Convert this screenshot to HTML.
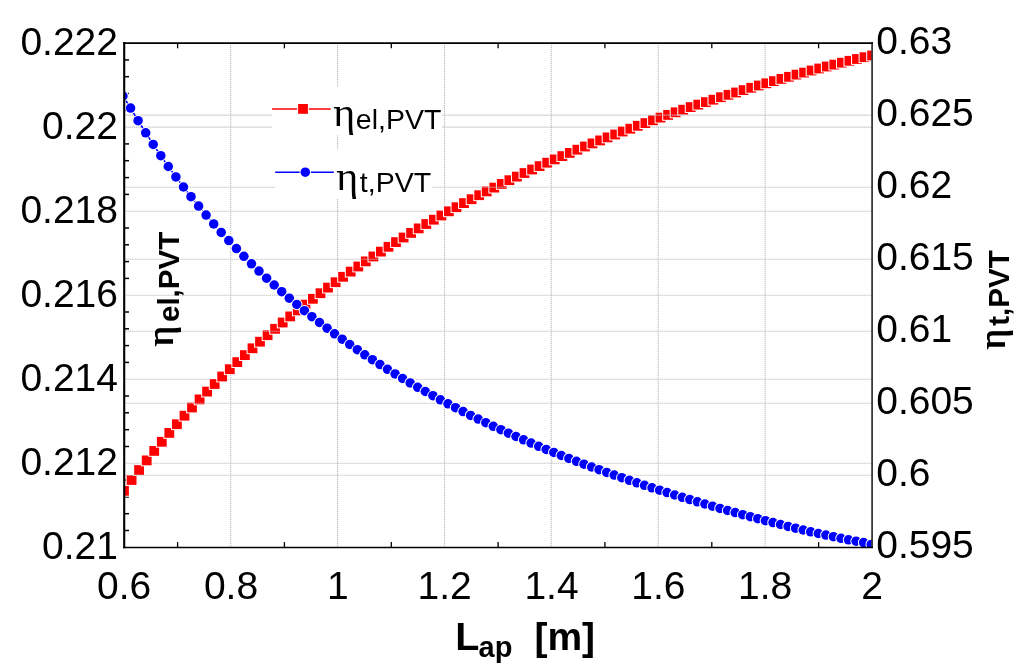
<!DOCTYPE html>
<html lang="en"><head><meta charset="utf-8"><title>PVT efficiency vs aperture length</title>
<style>html,body{margin:0;padding:0;background:#fff}body{width:1024px;height:671px;overflow:hidden}svg{display:block;filter:blur(0.45px)}.n{font-family:"Liberation Sans",sans-serif;font-size:39px;fill:#000}.s{font-family:"Liberation Sans",sans-serif;font-size:28.5px;fill:#000}.e{font-family:"Liberation Serif",serif;font-size:39px;fill:#000}.b{font-family:"Liberation Sans",sans-serif;font-weight:bold;fill:#000}.eb{font-family:"Liberation Serif",serif;font-size:38.5px;fill:#000}.g{stroke:#bcbcbc;stroke-width:1.1;stroke-dasharray:1.2 0.8;fill:none}</style></head><body>
<svg width="1024" height="671" viewBox="0 0 1024 671">
<rect width="1024" height="671" fill="#fff"/>
<defs><clipPath id="cp"><rect x="124.2" y="43.1" width="748.7" height="504.2"/></clipPath></defs>
<g class="g">
<line x1="230.7" y1="43.1" x2="230.7" y2="547.3"/>
<line x1="337.6" y1="43.1" x2="337.6" y2="547.3"/>
<line x1="444.5" y1="43.1" x2="444.5" y2="547.3"/>
<line x1="551.3" y1="43.1" x2="551.3" y2="547.3"/>
<line x1="658.2" y1="43.1" x2="658.2" y2="547.3"/>
<line x1="765.1" y1="43.1" x2="765.1" y2="547.3"/>
<line x1="124.2" y1="127.1" x2="872.0" y2="127.1"/>
<line x1="124.2" y1="211.2" x2="872.0" y2="211.2"/>
<line x1="124.2" y1="295.2" x2="872.0" y2="295.2"/>
<line x1="124.2" y1="379.2" x2="872.0" y2="379.2"/>
<line x1="124.2" y1="463.3" x2="872.0" y2="463.3"/>
</g>
<g stroke="#000" fill="none">
<line x1="124.2" y1="59.9" x2="129.0" y2="59.9" stroke-width="1.5"/>
<line x1="124.2" y1="76.7" x2="129.0" y2="76.7" stroke-width="1.5"/>
<line x1="124.2" y1="93.5" x2="129.0" y2="93.5" stroke-width="1.5"/>
<line x1="124.2" y1="110.3" x2="129.0" y2="110.3" stroke-width="1.5"/>
<line x1="124.2" y1="143.9" x2="129.0" y2="143.9" stroke-width="1.5"/>
<line x1="124.2" y1="160.7" x2="129.0" y2="160.7" stroke-width="1.5"/>
<line x1="124.2" y1="177.6" x2="129.0" y2="177.6" stroke-width="1.5"/>
<line x1="124.2" y1="194.4" x2="129.0" y2="194.4" stroke-width="1.5"/>
<line x1="124.2" y1="228.0" x2="129.0" y2="228.0" stroke-width="1.5"/>
<line x1="124.2" y1="244.8" x2="129.0" y2="244.8" stroke-width="1.5"/>
<line x1="124.2" y1="261.6" x2="129.0" y2="261.6" stroke-width="1.5"/>
<line x1="124.2" y1="278.4" x2="129.0" y2="278.4" stroke-width="1.5"/>
<line x1="124.2" y1="312.0" x2="129.0" y2="312.0" stroke-width="1.5"/>
<line x1="124.2" y1="328.8" x2="129.0" y2="328.8" stroke-width="1.5"/>
<line x1="124.2" y1="345.6" x2="129.0" y2="345.6" stroke-width="1.5"/>
<line x1="124.2" y1="362.4" x2="129.0" y2="362.4" stroke-width="1.5"/>
<line x1="124.2" y1="396.0" x2="129.0" y2="396.0" stroke-width="1.5"/>
<line x1="124.2" y1="412.8" x2="129.0" y2="412.8" stroke-width="1.5"/>
<line x1="124.2" y1="429.7" x2="129.0" y2="429.7" stroke-width="1.5"/>
<line x1="124.2" y1="446.5" x2="129.0" y2="446.5" stroke-width="1.5"/>
<line x1="124.2" y1="480.1" x2="129.0" y2="480.1" stroke-width="1.5"/>
<line x1="124.2" y1="496.9" x2="129.0" y2="496.9" stroke-width="1.5"/>
<line x1="124.2" y1="513.7" x2="129.0" y2="513.7" stroke-width="1.5"/>
<line x1="124.2" y1="530.5" x2="129.0" y2="530.5" stroke-width="1.5"/>
<line x1="177.6" y1="43.1" x2="177.6" y2="48.3" stroke-width="1.3"/>
<line x1="177.6" y1="547.3" x2="177.6" y2="542.1" stroke-width="1.3"/>
<line x1="284.4" y1="43.1" x2="284.4" y2="48.3" stroke-width="1.3"/>
<line x1="284.4" y1="547.3" x2="284.4" y2="542.1" stroke-width="1.3"/>
<line x1="391.3" y1="43.1" x2="391.3" y2="48.3" stroke-width="1.3"/>
<line x1="391.3" y1="547.3" x2="391.3" y2="542.1" stroke-width="1.3"/>
<line x1="498.1" y1="43.1" x2="498.1" y2="48.3" stroke-width="1.3"/>
<line x1="498.1" y1="547.3" x2="498.1" y2="542.1" stroke-width="1.3"/>
<line x1="604.9" y1="43.1" x2="604.9" y2="48.3" stroke-width="1.3"/>
<line x1="604.9" y1="547.3" x2="604.9" y2="542.1" stroke-width="1.3"/>
<line x1="711.8" y1="43.1" x2="711.8" y2="48.3" stroke-width="1.3"/>
<line x1="711.8" y1="547.3" x2="711.8" y2="542.1" stroke-width="1.3"/>
<line x1="818.6" y1="43.1" x2="818.6" y2="48.3" stroke-width="1.3"/>
<line x1="818.6" y1="547.3" x2="818.6" y2="542.1" stroke-width="1.3"/>
</g>
<g clip-path="url(#cp)">
<polyline fill="none" stroke="#f00" stroke-width="1.6" points="124.0,490.8 131.6,480.0 139.1,470.0 146.7,460.4 154.2,450.9 161.8,441.8 169.3,432.9 176.9,424.2 184.5,415.7 192.0,407.5 199.6,399.4 207.1,391.6 214.7,384.0 222.2,376.5 229.8,369.2 237.3,362.1 244.9,355.1 252.5,348.3 260.0,341.7 267.6,335.2 275.1,328.8 282.7,322.5 290.2,316.4 297.8,310.4 305.4,304.6 312.9,298.8 320.5,293.2 328.0,287.6 335.6,282.2 343.1,276.8 350.7,271.6 358.3,266.5 365.8,261.4 373.4,256.5 380.9,251.6 388.5,246.8 396.0,242.1 403.6,237.5 411.1,232.9 418.7,228.4 426.3,224.0 433.8,219.7 441.4,215.5 448.9,211.3 456.5,207.2 464.0,203.1 471.6,199.2 479.2,195.2 486.7,191.4 494.3,187.6 501.8,183.9 509.4,180.2 516.9,176.6 524.5,173.0 532.1,169.5 539.6,166.1 547.2,162.7 554.7,159.4 562.3,156.1 569.8,152.9 577.4,149.7 585.0,146.5 592.5,143.4 600.1,140.4 607.6,137.4 615.2,134.5 622.7,131.5 630.3,128.7 637.8,125.8 645.4,123.1 653.0,120.3 660.5,117.6 668.1,114.9 675.6,112.3 683.2,109.7 690.7,107.1 698.3,104.6 705.9,102.1 713.4,99.7 721.0,97.2 728.5,94.8 736.1,92.5 743.6,90.1 751.2,87.8 758.8,85.5 766.3,83.3 773.9,81.1 781.4,78.9 789.0,76.8 796.5,74.6 804.1,72.6 811.6,70.5 819.2,68.5 826.8,66.5 834.3,64.6 841.9,62.7 849.4,60.8 857.0,59.0 864.5,57.2 872.1,55.5"/>
<rect x="119.1" y="485.9" width="9.8" height="9.8" fill="#f00" stroke="#fff" stroke-width="2" paint-order="stroke"/>
<rect x="126.7" y="475.1" width="9.8" height="9.8" fill="#f00" stroke="#fff" stroke-width="2" paint-order="stroke"/>
<rect x="134.2" y="465.1" width="9.8" height="9.8" fill="#f00" stroke="#fff" stroke-width="2" paint-order="stroke"/>
<rect x="141.8" y="455.5" width="9.8" height="9.8" fill="#f00" stroke="#fff" stroke-width="2" paint-order="stroke"/>
<rect x="149.3" y="446.0" width="9.8" height="9.8" fill="#f00" stroke="#fff" stroke-width="2" paint-order="stroke"/>
<rect x="156.9" y="436.9" width="9.8" height="9.8" fill="#f00" stroke="#fff" stroke-width="2" paint-order="stroke"/>
<rect x="164.4" y="428.0" width="9.8" height="9.8" fill="#f00" stroke="#fff" stroke-width="2" paint-order="stroke"/>
<rect x="172.0" y="419.3" width="9.8" height="9.8" fill="#f00" stroke="#fff" stroke-width="2" paint-order="stroke"/>
<rect x="179.6" y="410.8" width="9.8" height="9.8" fill="#f00" stroke="#fff" stroke-width="2" paint-order="stroke"/>
<rect x="187.1" y="402.6" width="9.8" height="9.8" fill="#f00" stroke="#fff" stroke-width="2" paint-order="stroke"/>
<rect x="194.7" y="394.5" width="9.8" height="9.8" fill="#f00" stroke="#fff" stroke-width="2" paint-order="stroke"/>
<rect x="202.2" y="386.7" width="9.8" height="9.8" fill="#f00" stroke="#fff" stroke-width="2" paint-order="stroke"/>
<rect x="209.8" y="379.1" width="9.8" height="9.8" fill="#f00" stroke="#fff" stroke-width="2" paint-order="stroke"/>
<rect x="217.3" y="371.6" width="9.8" height="9.8" fill="#f00" stroke="#fff" stroke-width="2" paint-order="stroke"/>
<rect x="224.9" y="364.3" width="9.8" height="9.8" fill="#f00" stroke="#fff" stroke-width="2" paint-order="stroke"/>
<rect x="232.4" y="357.2" width="9.8" height="9.8" fill="#f00" stroke="#fff" stroke-width="2" paint-order="stroke"/>
<rect x="240.0" y="350.2" width="9.8" height="9.8" fill="#f00" stroke="#fff" stroke-width="2" paint-order="stroke"/>
<rect x="247.6" y="343.4" width="9.8" height="9.8" fill="#f00" stroke="#fff" stroke-width="2" paint-order="stroke"/>
<rect x="255.1" y="336.8" width="9.8" height="9.8" fill="#f00" stroke="#fff" stroke-width="2" paint-order="stroke"/>
<rect x="262.7" y="330.3" width="9.8" height="9.8" fill="#f00" stroke="#fff" stroke-width="2" paint-order="stroke"/>
<rect x="270.2" y="323.9" width="9.8" height="9.8" fill="#f00" stroke="#fff" stroke-width="2" paint-order="stroke"/>
<rect x="277.8" y="317.6" width="9.8" height="9.8" fill="#f00" stroke="#fff" stroke-width="2" paint-order="stroke"/>
<rect x="285.3" y="311.5" width="9.8" height="9.8" fill="#f00" stroke="#fff" stroke-width="2" paint-order="stroke"/>
<rect x="292.9" y="305.5" width="9.8" height="9.8" fill="#f00" stroke="#fff" stroke-width="2" paint-order="stroke"/>
<rect x="300.5" y="299.7" width="9.8" height="9.8" fill="#f00" stroke="#fff" stroke-width="2" paint-order="stroke"/>
<rect x="308.0" y="293.9" width="9.8" height="9.8" fill="#f00" stroke="#fff" stroke-width="2" paint-order="stroke"/>
<rect x="315.6" y="288.3" width="9.8" height="9.8" fill="#f00" stroke="#fff" stroke-width="2" paint-order="stroke"/>
<rect x="323.1" y="282.7" width="9.8" height="9.8" fill="#f00" stroke="#fff" stroke-width="2" paint-order="stroke"/>
<rect x="330.7" y="277.3" width="9.8" height="9.8" fill="#f00" stroke="#fff" stroke-width="2" paint-order="stroke"/>
<rect x="338.2" y="271.9" width="9.8" height="9.8" fill="#f00" stroke="#fff" stroke-width="2" paint-order="stroke"/>
<rect x="345.8" y="266.7" width="9.8" height="9.8" fill="#f00" stroke="#fff" stroke-width="2" paint-order="stroke"/>
<rect x="353.4" y="261.6" width="9.8" height="9.8" fill="#f00" stroke="#fff" stroke-width="2" paint-order="stroke"/>
<rect x="360.9" y="256.5" width="9.8" height="9.8" fill="#f00" stroke="#fff" stroke-width="2" paint-order="stroke"/>
<rect x="368.5" y="251.6" width="9.8" height="9.8" fill="#f00" stroke="#fff" stroke-width="2" paint-order="stroke"/>
<rect x="376.0" y="246.7" width="9.8" height="9.8" fill="#f00" stroke="#fff" stroke-width="2" paint-order="stroke"/>
<rect x="383.6" y="241.9" width="9.8" height="9.8" fill="#f00" stroke="#fff" stroke-width="2" paint-order="stroke"/>
<rect x="391.1" y="237.2" width="9.8" height="9.8" fill="#f00" stroke="#fff" stroke-width="2" paint-order="stroke"/>
<rect x="398.7" y="232.6" width="9.8" height="9.8" fill="#f00" stroke="#fff" stroke-width="2" paint-order="stroke"/>
<rect x="406.2" y="228.0" width="9.8" height="9.8" fill="#f00" stroke="#fff" stroke-width="2" paint-order="stroke"/>
<rect x="413.8" y="223.5" width="9.8" height="9.8" fill="#f00" stroke="#fff" stroke-width="2" paint-order="stroke"/>
<rect x="421.4" y="219.1" width="9.8" height="9.8" fill="#f00" stroke="#fff" stroke-width="2" paint-order="stroke"/>
<rect x="428.9" y="214.8" width="9.8" height="9.8" fill="#f00" stroke="#fff" stroke-width="2" paint-order="stroke"/>
<rect x="436.5" y="210.6" width="9.8" height="9.8" fill="#f00" stroke="#fff" stroke-width="2" paint-order="stroke"/>
<rect x="444.0" y="206.4" width="9.8" height="9.8" fill="#f00" stroke="#fff" stroke-width="2" paint-order="stroke"/>
<rect x="451.6" y="202.3" width="9.8" height="9.8" fill="#f00" stroke="#fff" stroke-width="2" paint-order="stroke"/>
<rect x="459.1" y="198.2" width="9.8" height="9.8" fill="#f00" stroke="#fff" stroke-width="2" paint-order="stroke"/>
<rect x="466.7" y="194.3" width="9.8" height="9.8" fill="#f00" stroke="#fff" stroke-width="2" paint-order="stroke"/>
<rect x="474.3" y="190.3" width="9.8" height="9.8" fill="#f00" stroke="#fff" stroke-width="2" paint-order="stroke"/>
<rect x="481.8" y="186.5" width="9.8" height="9.8" fill="#f00" stroke="#fff" stroke-width="2" paint-order="stroke"/>
<rect x="489.4" y="182.7" width="9.8" height="9.8" fill="#f00" stroke="#fff" stroke-width="2" paint-order="stroke"/>
<rect x="496.9" y="179.0" width="9.8" height="9.8" fill="#f00" stroke="#fff" stroke-width="2" paint-order="stroke"/>
<rect x="504.5" y="175.3" width="9.8" height="9.8" fill="#f00" stroke="#fff" stroke-width="2" paint-order="stroke"/>
<rect x="512.0" y="171.7" width="9.8" height="9.8" fill="#f00" stroke="#fff" stroke-width="2" paint-order="stroke"/>
<rect x="519.6" y="168.1" width="9.8" height="9.8" fill="#f00" stroke="#fff" stroke-width="2" paint-order="stroke"/>
<rect x="527.2" y="164.6" width="9.8" height="9.8" fill="#f00" stroke="#fff" stroke-width="2" paint-order="stroke"/>
<rect x="534.7" y="161.2" width="9.8" height="9.8" fill="#f00" stroke="#fff" stroke-width="2" paint-order="stroke"/>
<rect x="542.3" y="157.8" width="9.8" height="9.8" fill="#f00" stroke="#fff" stroke-width="2" paint-order="stroke"/>
<rect x="549.8" y="154.5" width="9.8" height="9.8" fill="#f00" stroke="#fff" stroke-width="2" paint-order="stroke"/>
<rect x="557.4" y="151.2" width="9.8" height="9.8" fill="#f00" stroke="#fff" stroke-width="2" paint-order="stroke"/>
<rect x="564.9" y="148.0" width="9.8" height="9.8" fill="#f00" stroke="#fff" stroke-width="2" paint-order="stroke"/>
<rect x="572.5" y="144.8" width="9.8" height="9.8" fill="#f00" stroke="#fff" stroke-width="2" paint-order="stroke"/>
<rect x="580.1" y="141.6" width="9.8" height="9.8" fill="#f00" stroke="#fff" stroke-width="2" paint-order="stroke"/>
<rect x="587.6" y="138.5" width="9.8" height="9.8" fill="#f00" stroke="#fff" stroke-width="2" paint-order="stroke"/>
<rect x="595.2" y="135.5" width="9.8" height="9.8" fill="#f00" stroke="#fff" stroke-width="2" paint-order="stroke"/>
<rect x="602.7" y="132.5" width="9.8" height="9.8" fill="#f00" stroke="#fff" stroke-width="2" paint-order="stroke"/>
<rect x="610.3" y="129.6" width="9.8" height="9.8" fill="#f00" stroke="#fff" stroke-width="2" paint-order="stroke"/>
<rect x="617.8" y="126.6" width="9.8" height="9.8" fill="#f00" stroke="#fff" stroke-width="2" paint-order="stroke"/>
<rect x="625.4" y="123.8" width="9.8" height="9.8" fill="#f00" stroke="#fff" stroke-width="2" paint-order="stroke"/>
<rect x="632.9" y="120.9" width="9.8" height="9.8" fill="#f00" stroke="#fff" stroke-width="2" paint-order="stroke"/>
<rect x="640.5" y="118.2" width="9.8" height="9.8" fill="#f00" stroke="#fff" stroke-width="2" paint-order="stroke"/>
<rect x="648.1" y="115.4" width="9.8" height="9.8" fill="#f00" stroke="#fff" stroke-width="2" paint-order="stroke"/>
<rect x="655.6" y="112.7" width="9.8" height="9.8" fill="#f00" stroke="#fff" stroke-width="2" paint-order="stroke"/>
<rect x="663.2" y="110.0" width="9.8" height="9.8" fill="#f00" stroke="#fff" stroke-width="2" paint-order="stroke"/>
<rect x="670.7" y="107.4" width="9.8" height="9.8" fill="#f00" stroke="#fff" stroke-width="2" paint-order="stroke"/>
<rect x="678.3" y="104.8" width="9.8" height="9.8" fill="#f00" stroke="#fff" stroke-width="2" paint-order="stroke"/>
<rect x="685.8" y="102.2" width="9.8" height="9.8" fill="#f00" stroke="#fff" stroke-width="2" paint-order="stroke"/>
<rect x="693.4" y="99.7" width="9.8" height="9.8" fill="#f00" stroke="#fff" stroke-width="2" paint-order="stroke"/>
<rect x="701.0" y="97.2" width="9.8" height="9.8" fill="#f00" stroke="#fff" stroke-width="2" paint-order="stroke"/>
<rect x="708.5" y="94.8" width="9.8" height="9.8" fill="#f00" stroke="#fff" stroke-width="2" paint-order="stroke"/>
<rect x="716.1" y="92.3" width="9.8" height="9.8" fill="#f00" stroke="#fff" stroke-width="2" paint-order="stroke"/>
<rect x="723.6" y="89.9" width="9.8" height="9.8" fill="#f00" stroke="#fff" stroke-width="2" paint-order="stroke"/>
<rect x="731.2" y="87.6" width="9.8" height="9.8" fill="#f00" stroke="#fff" stroke-width="2" paint-order="stroke"/>
<rect x="738.7" y="85.2" width="9.8" height="9.8" fill="#f00" stroke="#fff" stroke-width="2" paint-order="stroke"/>
<rect x="746.3" y="82.9" width="9.8" height="9.8" fill="#f00" stroke="#fff" stroke-width="2" paint-order="stroke"/>
<rect x="753.9" y="80.6" width="9.8" height="9.8" fill="#f00" stroke="#fff" stroke-width="2" paint-order="stroke"/>
<rect x="761.4" y="78.4" width="9.8" height="9.8" fill="#f00" stroke="#fff" stroke-width="2" paint-order="stroke"/>
<rect x="769.0" y="76.2" width="9.8" height="9.8" fill="#f00" stroke="#fff" stroke-width="2" paint-order="stroke"/>
<rect x="776.5" y="74.0" width="9.8" height="9.8" fill="#f00" stroke="#fff" stroke-width="2" paint-order="stroke"/>
<rect x="784.1" y="71.9" width="9.8" height="9.8" fill="#f00" stroke="#fff" stroke-width="2" paint-order="stroke"/>
<rect x="791.6" y="69.7" width="9.8" height="9.8" fill="#f00" stroke="#fff" stroke-width="2" paint-order="stroke"/>
<rect x="799.2" y="67.7" width="9.8" height="9.8" fill="#f00" stroke="#fff" stroke-width="2" paint-order="stroke"/>
<rect x="806.7" y="65.6" width="9.8" height="9.8" fill="#f00" stroke="#fff" stroke-width="2" paint-order="stroke"/>
<rect x="814.3" y="63.6" width="9.8" height="9.8" fill="#f00" stroke="#fff" stroke-width="2" paint-order="stroke"/>
<rect x="821.9" y="61.6" width="9.8" height="9.8" fill="#f00" stroke="#fff" stroke-width="2" paint-order="stroke"/>
<rect x="829.4" y="59.7" width="9.8" height="9.8" fill="#f00" stroke="#fff" stroke-width="2" paint-order="stroke"/>
<rect x="837.0" y="57.8" width="9.8" height="9.8" fill="#f00" stroke="#fff" stroke-width="2" paint-order="stroke"/>
<rect x="844.5" y="55.9" width="9.8" height="9.8" fill="#f00" stroke="#fff" stroke-width="2" paint-order="stroke"/>
<rect x="852.1" y="54.1" width="9.8" height="9.8" fill="#f00" stroke="#fff" stroke-width="2" paint-order="stroke"/>
<rect x="859.6" y="52.3" width="9.8" height="9.8" fill="#f00" stroke="#fff" stroke-width="2" paint-order="stroke"/>
<rect x="867.2" y="50.6" width="9.8" height="9.8" fill="#f00" stroke="#fff" stroke-width="2" paint-order="stroke"/>
</g>
<g class="g">
<line x1="124.2" y1="115.1" x2="872.0" y2="115.1"/>
<line x1="124.2" y1="187.2" x2="872.0" y2="187.2"/>
<line x1="124.2" y1="259.2" x2="872.0" y2="259.2"/>
<line x1="124.2" y1="331.2" x2="872.0" y2="331.2"/>
<line x1="124.2" y1="403.2" x2="872.0" y2="403.2"/>
<line x1="124.2" y1="475.3" x2="872.0" y2="475.3"/>
</g>
<g clip-path="url(#cp)">
<polyline fill="none" stroke="#00f" stroke-width="1.6" points="123.0,96.0 130.6,108.1 138.1,120.7 145.7,132.8 153.2,144.4 160.8,155.7 168.3,166.5 175.9,176.9 183.5,187.0 191.0,196.7 198.6,206.1 206.1,215.1 213.7,223.9 221.2,232.4 228.8,240.6 236.4,248.6 243.9,256.3 251.5,263.8 259.0,271.1 266.6,278.2 274.2,285.0 281.7,291.7 289.3,298.2 296.8,304.5 304.4,310.7 311.9,316.7 319.5,322.5 327.1,328.2 334.6,333.8 342.2,339.2 349.7,344.5 357.3,349.7 364.8,354.8 372.4,359.7 380.0,364.6 387.5,369.3 395.1,373.9 402.6,378.5 410.2,382.9 417.7,387.3 425.3,391.5 432.9,395.7 440.4,399.8 448.0,403.8 455.5,407.7 463.1,411.6 470.6,415.4 478.2,419.1 485.8,422.7 493.3,426.3 500.9,429.7 508.4,433.2 516.0,436.5 523.6,439.8 531.1,443.1 538.7,446.3 546.2,449.4 553.8,452.4 561.3,455.5 568.9,458.4 576.5,461.3 584.0,464.2 591.6,467.0 599.1,469.7 606.7,472.4 614.2,475.1 621.8,477.7 629.4,480.3 636.9,482.8 644.5,485.3 652.0,487.8 659.6,490.2 667.1,492.6 674.7,495.0 682.3,497.3 689.8,499.6 697.4,501.8 704.9,504.0 712.5,506.2 720.0,508.4 727.6,510.5 735.2,512.6 742.7,514.7 750.3,516.7 757.8,518.7 765.4,520.7 773.0,522.6 780.5,524.5 788.1,526.4 795.6,528.2 803.2,530.0 810.7,531.8 818.3,533.5 825.9,535.1 833.4,536.7 841.0,538.3 848.5,539.8 856.1,541.2 863.6,542.6 871.2,544.4"/>
<circle cx="123.0" cy="96.0" r="4.75" fill="#00f" stroke="#fff" stroke-width="2" paint-order="stroke"/>
<circle cx="130.6" cy="108.1" r="4.75" fill="#00f" stroke="#fff" stroke-width="2" paint-order="stroke"/>
<circle cx="138.1" cy="120.7" r="4.75" fill="#00f" stroke="#fff" stroke-width="2" paint-order="stroke"/>
<circle cx="145.7" cy="132.8" r="4.75" fill="#00f" stroke="#fff" stroke-width="2" paint-order="stroke"/>
<circle cx="153.2" cy="144.4" r="4.75" fill="#00f" stroke="#fff" stroke-width="2" paint-order="stroke"/>
<circle cx="160.8" cy="155.7" r="4.75" fill="#00f" stroke="#fff" stroke-width="2" paint-order="stroke"/>
<circle cx="168.3" cy="166.5" r="4.75" fill="#00f" stroke="#fff" stroke-width="2" paint-order="stroke"/>
<circle cx="175.9" cy="176.9" r="4.75" fill="#00f" stroke="#fff" stroke-width="2" paint-order="stroke"/>
<circle cx="183.5" cy="187.0" r="4.75" fill="#00f" stroke="#fff" stroke-width="2" paint-order="stroke"/>
<circle cx="191.0" cy="196.7" r="4.75" fill="#00f" stroke="#fff" stroke-width="2" paint-order="stroke"/>
<circle cx="198.6" cy="206.1" r="4.75" fill="#00f" stroke="#fff" stroke-width="2" paint-order="stroke"/>
<circle cx="206.1" cy="215.1" r="4.75" fill="#00f" stroke="#fff" stroke-width="2" paint-order="stroke"/>
<circle cx="213.7" cy="223.9" r="4.75" fill="#00f" stroke="#fff" stroke-width="2" paint-order="stroke"/>
<circle cx="221.2" cy="232.4" r="4.75" fill="#00f" stroke="#fff" stroke-width="2" paint-order="stroke"/>
<circle cx="228.8" cy="240.6" r="4.75" fill="#00f" stroke="#fff" stroke-width="2" paint-order="stroke"/>
<circle cx="236.4" cy="248.6" r="4.75" fill="#00f" stroke="#fff" stroke-width="2" paint-order="stroke"/>
<circle cx="243.9" cy="256.3" r="4.75" fill="#00f" stroke="#fff" stroke-width="2" paint-order="stroke"/>
<circle cx="251.5" cy="263.8" r="4.75" fill="#00f" stroke="#fff" stroke-width="2" paint-order="stroke"/>
<circle cx="259.0" cy="271.1" r="4.75" fill="#00f" stroke="#fff" stroke-width="2" paint-order="stroke"/>
<circle cx="266.6" cy="278.2" r="4.75" fill="#00f" stroke="#fff" stroke-width="2" paint-order="stroke"/>
<circle cx="274.2" cy="285.0" r="4.75" fill="#00f" stroke="#fff" stroke-width="2" paint-order="stroke"/>
<circle cx="281.7" cy="291.7" r="4.75" fill="#00f" stroke="#fff" stroke-width="2" paint-order="stroke"/>
<circle cx="289.3" cy="298.2" r="4.75" fill="#00f" stroke="#fff" stroke-width="2" paint-order="stroke"/>
<circle cx="296.8" cy="304.5" r="4.75" fill="#00f" stroke="#fff" stroke-width="2" paint-order="stroke"/>
<circle cx="304.4" cy="310.7" r="4.75" fill="#00f" stroke="#fff" stroke-width="2" paint-order="stroke"/>
<circle cx="311.9" cy="316.7" r="4.75" fill="#00f" stroke="#fff" stroke-width="2" paint-order="stroke"/>
<circle cx="319.5" cy="322.5" r="4.75" fill="#00f" stroke="#fff" stroke-width="2" paint-order="stroke"/>
<circle cx="327.1" cy="328.2" r="4.75" fill="#00f" stroke="#fff" stroke-width="2" paint-order="stroke"/>
<circle cx="334.6" cy="333.8" r="4.75" fill="#00f" stroke="#fff" stroke-width="2" paint-order="stroke"/>
<circle cx="342.2" cy="339.2" r="4.75" fill="#00f" stroke="#fff" stroke-width="2" paint-order="stroke"/>
<circle cx="349.7" cy="344.5" r="4.75" fill="#00f" stroke="#fff" stroke-width="2" paint-order="stroke"/>
<circle cx="357.3" cy="349.7" r="4.75" fill="#00f" stroke="#fff" stroke-width="2" paint-order="stroke"/>
<circle cx="364.8" cy="354.8" r="4.75" fill="#00f" stroke="#fff" stroke-width="2" paint-order="stroke"/>
<circle cx="372.4" cy="359.7" r="4.75" fill="#00f" stroke="#fff" stroke-width="2" paint-order="stroke"/>
<circle cx="380.0" cy="364.6" r="4.75" fill="#00f" stroke="#fff" stroke-width="2" paint-order="stroke"/>
<circle cx="387.5" cy="369.3" r="4.75" fill="#00f" stroke="#fff" stroke-width="2" paint-order="stroke"/>
<circle cx="395.1" cy="373.9" r="4.75" fill="#00f" stroke="#fff" stroke-width="2" paint-order="stroke"/>
<circle cx="402.6" cy="378.5" r="4.75" fill="#00f" stroke="#fff" stroke-width="2" paint-order="stroke"/>
<circle cx="410.2" cy="382.9" r="4.75" fill="#00f" stroke="#fff" stroke-width="2" paint-order="stroke"/>
<circle cx="417.7" cy="387.3" r="4.75" fill="#00f" stroke="#fff" stroke-width="2" paint-order="stroke"/>
<circle cx="425.3" cy="391.5" r="4.75" fill="#00f" stroke="#fff" stroke-width="2" paint-order="stroke"/>
<circle cx="432.9" cy="395.7" r="4.75" fill="#00f" stroke="#fff" stroke-width="2" paint-order="stroke"/>
<circle cx="440.4" cy="399.8" r="4.75" fill="#00f" stroke="#fff" stroke-width="2" paint-order="stroke"/>
<circle cx="448.0" cy="403.8" r="4.75" fill="#00f" stroke="#fff" stroke-width="2" paint-order="stroke"/>
<circle cx="455.5" cy="407.7" r="4.75" fill="#00f" stroke="#fff" stroke-width="2" paint-order="stroke"/>
<circle cx="463.1" cy="411.6" r="4.75" fill="#00f" stroke="#fff" stroke-width="2" paint-order="stroke"/>
<circle cx="470.6" cy="415.4" r="4.75" fill="#00f" stroke="#fff" stroke-width="2" paint-order="stroke"/>
<circle cx="478.2" cy="419.1" r="4.75" fill="#00f" stroke="#fff" stroke-width="2" paint-order="stroke"/>
<circle cx="485.8" cy="422.7" r="4.75" fill="#00f" stroke="#fff" stroke-width="2" paint-order="stroke"/>
<circle cx="493.3" cy="426.3" r="4.75" fill="#00f" stroke="#fff" stroke-width="2" paint-order="stroke"/>
<circle cx="500.9" cy="429.7" r="4.75" fill="#00f" stroke="#fff" stroke-width="2" paint-order="stroke"/>
<circle cx="508.4" cy="433.2" r="4.75" fill="#00f" stroke="#fff" stroke-width="2" paint-order="stroke"/>
<circle cx="516.0" cy="436.5" r="4.75" fill="#00f" stroke="#fff" stroke-width="2" paint-order="stroke"/>
<circle cx="523.6" cy="439.8" r="4.75" fill="#00f" stroke="#fff" stroke-width="2" paint-order="stroke"/>
<circle cx="531.1" cy="443.1" r="4.75" fill="#00f" stroke="#fff" stroke-width="2" paint-order="stroke"/>
<circle cx="538.7" cy="446.3" r="4.75" fill="#00f" stroke="#fff" stroke-width="2" paint-order="stroke"/>
<circle cx="546.2" cy="449.4" r="4.75" fill="#00f" stroke="#fff" stroke-width="2" paint-order="stroke"/>
<circle cx="553.8" cy="452.4" r="4.75" fill="#00f" stroke="#fff" stroke-width="2" paint-order="stroke"/>
<circle cx="561.3" cy="455.5" r="4.75" fill="#00f" stroke="#fff" stroke-width="2" paint-order="stroke"/>
<circle cx="568.9" cy="458.4" r="4.75" fill="#00f" stroke="#fff" stroke-width="2" paint-order="stroke"/>
<circle cx="576.5" cy="461.3" r="4.75" fill="#00f" stroke="#fff" stroke-width="2" paint-order="stroke"/>
<circle cx="584.0" cy="464.2" r="4.75" fill="#00f" stroke="#fff" stroke-width="2" paint-order="stroke"/>
<circle cx="591.6" cy="467.0" r="4.75" fill="#00f" stroke="#fff" stroke-width="2" paint-order="stroke"/>
<circle cx="599.1" cy="469.7" r="4.75" fill="#00f" stroke="#fff" stroke-width="2" paint-order="stroke"/>
<circle cx="606.7" cy="472.4" r="4.75" fill="#00f" stroke="#fff" stroke-width="2" paint-order="stroke"/>
<circle cx="614.2" cy="475.1" r="4.75" fill="#00f" stroke="#fff" stroke-width="2" paint-order="stroke"/>
<circle cx="621.8" cy="477.7" r="4.75" fill="#00f" stroke="#fff" stroke-width="2" paint-order="stroke"/>
<circle cx="629.4" cy="480.3" r="4.75" fill="#00f" stroke="#fff" stroke-width="2" paint-order="stroke"/>
<circle cx="636.9" cy="482.8" r="4.75" fill="#00f" stroke="#fff" stroke-width="2" paint-order="stroke"/>
<circle cx="644.5" cy="485.3" r="4.75" fill="#00f" stroke="#fff" stroke-width="2" paint-order="stroke"/>
<circle cx="652.0" cy="487.8" r="4.75" fill="#00f" stroke="#fff" stroke-width="2" paint-order="stroke"/>
<circle cx="659.6" cy="490.2" r="4.75" fill="#00f" stroke="#fff" stroke-width="2" paint-order="stroke"/>
<circle cx="667.1" cy="492.6" r="4.75" fill="#00f" stroke="#fff" stroke-width="2" paint-order="stroke"/>
<circle cx="674.7" cy="495.0" r="4.75" fill="#00f" stroke="#fff" stroke-width="2" paint-order="stroke"/>
<circle cx="682.3" cy="497.3" r="4.75" fill="#00f" stroke="#fff" stroke-width="2" paint-order="stroke"/>
<circle cx="689.8" cy="499.6" r="4.75" fill="#00f" stroke="#fff" stroke-width="2" paint-order="stroke"/>
<circle cx="697.4" cy="501.8" r="4.75" fill="#00f" stroke="#fff" stroke-width="2" paint-order="stroke"/>
<circle cx="704.9" cy="504.0" r="4.75" fill="#00f" stroke="#fff" stroke-width="2" paint-order="stroke"/>
<circle cx="712.5" cy="506.2" r="4.75" fill="#00f" stroke="#fff" stroke-width="2" paint-order="stroke"/>
<circle cx="720.0" cy="508.4" r="4.75" fill="#00f" stroke="#fff" stroke-width="2" paint-order="stroke"/>
<circle cx="727.6" cy="510.5" r="4.75" fill="#00f" stroke="#fff" stroke-width="2" paint-order="stroke"/>
<circle cx="735.2" cy="512.6" r="4.75" fill="#00f" stroke="#fff" stroke-width="2" paint-order="stroke"/>
<circle cx="742.7" cy="514.7" r="4.75" fill="#00f" stroke="#fff" stroke-width="2" paint-order="stroke"/>
<circle cx="750.3" cy="516.7" r="4.75" fill="#00f" stroke="#fff" stroke-width="2" paint-order="stroke"/>
<circle cx="757.8" cy="518.7" r="4.75" fill="#00f" stroke="#fff" stroke-width="2" paint-order="stroke"/>
<circle cx="765.4" cy="520.7" r="4.75" fill="#00f" stroke="#fff" stroke-width="2" paint-order="stroke"/>
<circle cx="773.0" cy="522.6" r="4.75" fill="#00f" stroke="#fff" stroke-width="2" paint-order="stroke"/>
<circle cx="780.5" cy="524.5" r="4.75" fill="#00f" stroke="#fff" stroke-width="2" paint-order="stroke"/>
<circle cx="788.1" cy="526.4" r="4.75" fill="#00f" stroke="#fff" stroke-width="2" paint-order="stroke"/>
<circle cx="795.6" cy="528.2" r="4.75" fill="#00f" stroke="#fff" stroke-width="2" paint-order="stroke"/>
<circle cx="803.2" cy="530.0" r="4.75" fill="#00f" stroke="#fff" stroke-width="2" paint-order="stroke"/>
<circle cx="810.7" cy="531.8" r="4.75" fill="#00f" stroke="#fff" stroke-width="2" paint-order="stroke"/>
<circle cx="818.3" cy="533.5" r="4.75" fill="#00f" stroke="#fff" stroke-width="2" paint-order="stroke"/>
<circle cx="825.9" cy="535.1" r="4.75" fill="#00f" stroke="#fff" stroke-width="2" paint-order="stroke"/>
<circle cx="833.4" cy="536.7" r="4.75" fill="#00f" stroke="#fff" stroke-width="2" paint-order="stroke"/>
<circle cx="841.0" cy="538.3" r="4.75" fill="#00f" stroke="#fff" stroke-width="2" paint-order="stroke"/>
<circle cx="848.5" cy="539.8" r="4.75" fill="#00f" stroke="#fff" stroke-width="2" paint-order="stroke"/>
<circle cx="856.1" cy="541.2" r="4.75" fill="#00f" stroke="#fff" stroke-width="2" paint-order="stroke"/>
<circle cx="863.6" cy="542.6" r="4.75" fill="#00f" stroke="#fff" stroke-width="2" paint-order="stroke"/>
<circle cx="871.2" cy="544.4" r="4.75" fill="#00f" stroke="#fff" stroke-width="2" paint-order="stroke"/>
</g>
<g stroke="#000" fill="none">
<line x1="872.1" y1="42.1" x2="872.1" y2="548.1" stroke="#3a3a3a" stroke-width="1.8"/>
<line x1="123.2" y1="547.5" x2="873.0" y2="547.5" stroke-width="1.4"/>
<line x1="123.2" y1="43.1" x2="873.0" y2="43.1" stroke-width="1.9"/>
<line x1="124.2" y1="42.1" x2="124.2" y2="548.3" stroke-width="2.1"/>
</g>
<text class="n" x="118" y="54.6" text-anchor="end">0.222</text>
<text class="n" x="118" y="138.6" text-anchor="end">0.22</text>
<text class="n" x="118" y="222.7" text-anchor="end">0.218</text>
<text class="n" x="118" y="306.7" text-anchor="end">0.216</text>
<text class="n" x="118" y="390.7" text-anchor="end">0.214</text>
<text class="n" x="118" y="474.8" text-anchor="end">0.212</text>
<text class="n" x="118" y="558.8" text-anchor="end">0.21</text>
<text class="n" x="876.2" y="53.8">0.63</text>
<text class="n" x="876.2" y="125.8">0.625</text>
<text class="n" x="876.2" y="197.9">0.62</text>
<text class="n" x="876.2" y="269.9">0.615</text>
<text class="n" x="876.2" y="341.9">0.61</text>
<text class="n" x="876.2" y="413.9">0.605</text>
<text class="n" x="876.2" y="486.0">0.6</text>
<text class="n" x="876.2" y="558.0">0.595</text>
<text class="n" x="124.2" y="598.7" text-anchor="middle">0.6</text>
<text class="n" x="231.0" y="598.7" text-anchor="middle">0.8</text>
<text class="n" x="337.9" y="598.7" text-anchor="middle">1</text>
<text class="n" x="444.7" y="598.7" text-anchor="middle">1.2</text>
<text class="n" x="551.5" y="598.7" text-anchor="middle">1.4</text>
<text class="n" x="658.3" y="598.7" text-anchor="middle">1.6</text>
<text class="n" x="765.2" y="598.7" text-anchor="middle">1.8</text>
<text class="n" x="872.0" y="598.7" text-anchor="middle">2</text>
<text class="b" x="455.3" y="650.2" font-size="39.6">L</text>
<text class="b" x="478.6" y="656.6" font-size="29">ap</text>
<text class="b" x="534.4" y="650.2" font-size="39">[m]</text>
<g transform="translate(173.4,346) rotate(-90)"><text class="eb" transform="translate(-0.8,0) scale(1.00,1)">η</text><text class="eb" transform="translate(-0.1,0) scale(1.00,1)">η</text><text class="eb" transform="translate(0.6,0) scale(1.00,1)">η</text><text class="b" font-size="29.5" x="24" y="5.2">el,PVT</text></g>
<g transform="translate(1005,349) rotate(-90)"><text class="eb" transform="translate(-0.8,0) scale(1.00,1)">η</text><text class="eb" transform="translate(-0.1,0) scale(1.00,1)">η</text><text class="eb" transform="translate(0.6,0) scale(1.00,1)">η</text><text class="b" font-size="29.5" x="23.3" y="4.1">t,PVT</text></g>
<rect x="272" y="87" width="170" height="48.5" fill="#fff"/>
<rect x="275" y="149.5" width="156.5" height="49.5" fill="#fff"/>
<line x1="272.1" y1="108.9" x2="330.7" y2="108.9" stroke="#f00" stroke-width="1.5"/>
<rect x="298.1" y="104" width="9.8" height="9.8" fill="#f00" stroke="#fff" stroke-width="2" paint-order="stroke"/>
<line x1="275.2" y1="172.2" x2="333.8" y2="172.2" stroke="#00f" stroke-width="1.5"/>
<circle cx="305.3" cy="172.2" r="4.75" fill="#00f" stroke="#fff" stroke-width="2" paint-order="stroke"/>
<text class="e" transform="translate(333.2,125.6) scale(1.08,1)">η</text><text class="s" x="355.8" y="128.8">el,PVT</text>
<text class="e" transform="translate(336.2,189.6) scale(1.08,1)">η</text><text class="s" x="359.8" y="192.3">t,PVT</text>
</svg></body></html>
